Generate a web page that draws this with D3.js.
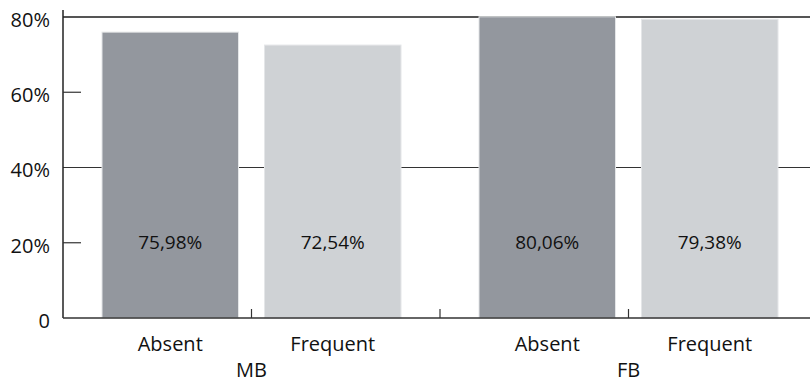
<!DOCTYPE html>
<html>
<head>
<meta charset="utf-8">
<script src="https://cdn.jsdelivr.net/npm/d3@7"></script>
<style>
  html, body { margin: 0; padding: 0; background: #fff; }
  svg { display: block; font-family: "Open Sans", "Noto Sans", sans-serif; }
</style>
</head>
<body>
<svg id="chart" width="810" height="382"></svg>
<script>
// Share of respondents by group and frequency
const groups = ["MB", "FB"];
const categories = ["Absent", "Frequent"];
const valuesMB = [75.98, 72.54];
const valuesFB = [80.06, 79.38];
const yTicks = [0, 20, 40, 60, 80];
const gridTicks = [40, 80];
const barColors = ["#93979e", "#cfd2d5"];

const seriesByGroup = { MB: valuesMB, FB: valuesFB };
const rows = groups.flatMap(g => categories.map((c, i) => ({ group: g, cat: c, value: seriesByGroup[g][i] })));

const svg = d3.select("#chart");
const plotLeft = 63, plotRight = 810, plotTop = 17, plotBottom = 318;

const y = d3.scaleLinear().domain([0, 80]).range([plotBottom, plotTop]);
const x0 = d3.scaleBand().domain(groups).range([plotLeft, plotLeft + 2 * 377]).padding(0);
const x1 = d3.scaleBand().domain(categories).range([0, x0.bandwidth()])
  .paddingInner(0.16).paddingOuter(0.24);

const fmt = v => d3.format(".2f")(v).replace(".", ",") + "%";

// full-width gridlines behind the bars
svg.append("g").selectAll("line").data(gridTicks).join("line")
  .attr("x1", plotLeft).attr("x2", plotRight)
  .attr("y1", d => y(d)).attr("y2", d => y(d))
  .attr("stroke", d => d === 80 ? "#555" : "#333")
  .attr("stroke-width", d => d === 80 ? 2 : 1.2);

// bars
svg.append("g").selectAll("rect").data(rows).join("rect")
  .attr("x", d => x0(d.group) + x1(d.cat))
  .attr("width", x1.bandwidth())
  .attr("y", d => y(d.value))
  .attr("height", d => y(0) - y(d.value))
  .attr("fill", d => barColors[categories.indexOf(d.cat)])
  .attr("stroke", "#e4e6e8").attr("stroke-width", 1);

// value labels
svg.append("g").selectAll("text").data(rows).join("text")
  .attr("x", d => x0(d.group) + x1(d.cat) + x1.bandwidth() / 2)
  .attr("y", y(20) + 1)
  .attr("text-anchor", "middle").attr("dominant-baseline", "middle")
  .attr("font-size", 19).attr("fill", "#111")
  .text(d => fmt(d.value));

// y axis
const yAxis = d3.axisLeft(y).tickValues(yTicks).tickSize(0).tickPadding(13)
  .tickFormat(d => d === 0 ? "0" : d + "%");
const gy = svg.append("g").attr("transform", `translate(${plotLeft},3)`).call(yAxis);
gy.select(".domain").remove();
gy.selectAll("text").attr("font-size", 20).attr("fill", "#111")
  .attr("font-family", "'Open Sans', 'Noto Sans', sans-serif");
svg.append("line").attr("x1", plotLeft).attr("x2", plotLeft).attr("y1", 10).attr("y2", plotBottom)
  .attr("stroke", "#222").attr("stroke-width", 1.5);
// short inward ticks
svg.append("g").selectAll("line").data(yTicks.filter(t => t !== 0 && !gridTicks.includes(t))).join("line")
  .attr("x1", plotLeft).attr("x2", plotLeft + 18)
  .attr("y1", d => y(d)).attr("y2", d => y(d))
  .attr("stroke", "#333").attr("stroke-width", 1.2);

// x axis baseline and separators
svg.append("line").attr("x1", plotLeft).attr("x2", plotRight).attr("y1", plotBottom).attr("y2", plotBottom)
  .attr("stroke", "#333").attr("stroke-width", 1.5);
const sepX = groups.flatMap(g => [x0(g) + x0.bandwidth() / 2, x0(g) + x0.bandwidth()]);
svg.append("g").selectAll("line").data(sepX).join("line")
  .attr("x1", d => d).attr("x2", d => d)
  .attr("y1", plotBottom).attr("y2", plotBottom - 9)
  .attr("stroke", "#333").attr("stroke-width", 1.2);

// category labels
svg.append("g").selectAll("text").data(rows).join("text")
  .attr("x", d => x0(d.group) + x1(d.cat) + x1.bandwidth() / 2)
  .attr("y", 351)
  .attr("text-anchor", "middle").attr("font-size", 20).attr("fill", "#111")
  .text(d => d.cat);

// group labels
svg.append("g").selectAll("text").data(groups).join("text")
  .attr("x", d => x0(d) + x0.bandwidth() / 2)
  .attr("y", 377)
  .attr("text-anchor", "middle").attr("font-size", 20).attr("fill", "#111")
  .text(d => d);
</script>
</body>
</html>
